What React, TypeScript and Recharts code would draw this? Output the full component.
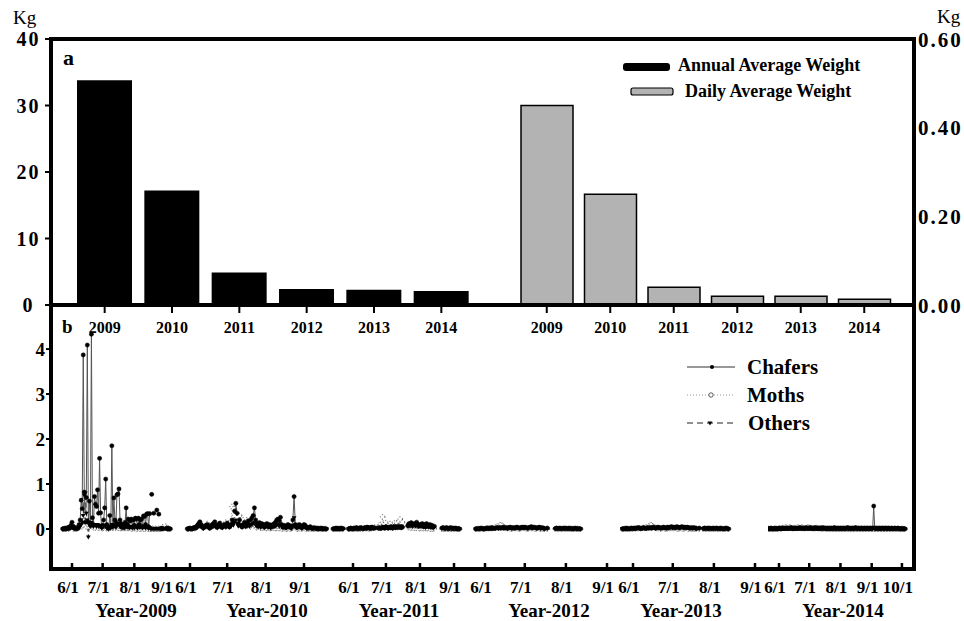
import React from "react";
import { Bar, BarChart, Line, LineChart, ReferenceLine, XAxis, YAxis } from "recharts";

const FONT = "'Liberation Serif', 'Times New Roman', serif";

// ---- panel a ----
const years = ["2009", "2010", "2011", "2012", "2013", "2014"];
const annualAvg = [33.8, 17.2, 4.9, 2.4, 2.3, 2.1];
const dailyAvg = [0.45, 0.25, 0.04, 0.02, 0.02, 0.013];
const leftTicks = [0, 10, 20, 30, 40];
const rightTicks = [0, 0.2, 0.4, 0.6];

// ---- panel b (days counted from 6/1) ----
const bTicks = [0, 1, 2, 3, 4];
const dateTicks = [0, 30, 61, 92];
const dateTicks2014 = [0, 30, 61, 92, 122];
const dateLabels: Record<number, string> = { 0: "6/1", 30: "7/1", 61: "8/1", 92: "9/1", 122: "10/1" };
const yearLabels = ["Year-2009", "Year-2010", "Year-2011", "Year-2012", "Year-2013", "Year-2014"];
const startDays = [-9, -2, -18, -7, -8, -12];

const chafers2009 = [
  0, 0.01, 0, 0.02, 0.01, 0.03, 0.02, 0.05, 0.08, 0.15,
  0.06, 0.02, 0.03, 0.01, 0.02, 0.04, 0.1, 0.2, 0.64, 0.45,
  3.87, 0.82, 0.15, 0.7, 4.09, 0.15, 0.62, 0.08, 4.33, 0.25,
  0.1, 0.72, 0.55, 0.5, 0.87, 0.35, 1.57, 0.36, 0.05, 0.08,
  0.2, 0.47, 1.11, 0.1, 0.05, 0.02, 0.3, 0.05, 1.85, 0.08,
  0.69, 0.2, 0.15, 0.76, 0.78, 0.89, 0.2, 0.12, 0.05, 0.1,
  0.03, 0.15, 0.47, 0.1, 0.22, 0.05, 0.18, 0.22, 0.04, 0.2,
  0.08, 0.24, 0.22, 0.06, 0.24, 0.1, 0.2, 0.22, 0.05, 0.29,
  0.28, 0.1, 0.33, 0.34, 0.05, 0.34, null, 0.77, null, 0.35,
  null, null, 0.42, null, 0.33, null, 0.01, 0.02, 0, null,
  null, 0.01, 0.02, 0, 0.01, 0,
];
const moths2009 = [
  0, 0, 0.01, 0, 0, 0.02, 0, 0.03, 0.05, 0.08,
  0.03, 0, 0.01, 0, 0, 0.02, 0.03, 0.05, 0.1, 0.05,
  0.08, 0.3, 0.1, 0.05, 0.12, 0.08, 0.05, 0.1, 0.06, 0.05,
  0.03, 0.05, 0.02, 0.04, 0.06, 0.02, 0.03, 0.05, 0.02, 0.01,
  0.02, 0.04, 0.03, 0.01, 0.02, 0, 0.03, 0.02, 0.05, 0.02,
  0.03, 0.05, 0.02, 0.04, 0.03, 0.02, 0.03, 0.01, 0.02, 0.03,
  0.02, 0.01, 0.03, 0.02, 0.01, 0.02, 0.03, 0.01, 0, 0.02,
  0.01, 0.02, 0.01, 0, 0.02, 0.01, 0, 0.01, 0.02, 0,
  0.01, 0, 0.02, 0.01, 0, 0.01, 0, 0, 0.01, 0,
  0, 0.01, 0, 0, 0.01, 0, 0, 0.01, 0.05, null,
  null, 0.06, 0.03, 0, 0.01, 0,
];
const others2009 = [
  0, 0, 0, 0, 0.01, 0, 0, 0.01, 0.02, 0.04,
  0.02, 0, 0, 0.01, 0, 0.01, 0.02, 0.05, 0.1, 0.15,
  0.3, 0.75, 0.8, 0.35, 0.2, -0.18, 0.1, 0.05, 0.15, 0.08,
  0.05, 0.1, 0.08, 0.05, 0.1, 0.05, 0.08, 0.05, 0.02, 0.03,
  0.05, 0.08, 0.05, 0.02, 0.01, 0, 0.05, 0.02, 0.1, 0.03,
  0.08, 0.05, 0.03, 0.1, 0.12, 0.08, 0.05, 0.03, 0.02, 0.05,
  0.02, 0.05, 0.08, 0.03, 0.05, 0.02, 0.04, 0.05, 0.02, 0.04,
  0.02, 0.05, 0.04, 0.02, 0.05, 0.03, 0.04, 0.05, 0.02, 0.05,
  0.04, 0.02, 0.05, 0.03, 0.01, 0.03, 0, 0, 0, 0,
  0, 0, 0, 0, 0, 0, 0, 0, 0, null,
  null, 0, 0, 0, 0, 0,
];

const chafers2010 = [
  0, 0.01, 0.02, 0, 0.01, 0.03, 0.02, 0.05, 0.08, 0.12,
  0.16, 0.1, 0.05, 0.03, 0.06, 0.08, 0.1, 0.04, 0.02, 0.06,
  0.1, 0.12, 0.16, 0.08, 0.05, 0.1, 0.13, 0.06, 0.04, 0.08,
  0.1, 0.06, 0.13, 0.08, 0.05, 0.1, 0.2, 0.15, 0.4, 0.57,
  0.35, 0.12, 0.2, 0.08, 0.05, 0.1, 0.15, 0.08, 0.12, 0.18,
  0.1, 0.2, 0.25, 0.3, 0.47, 0.2, 0.12, 0.1, 0.14, 0.08,
  0.12, 0.1, 0.06, 0.1, 0.12, 0.08, 0.1, 0.05, 0.08, 0.1,
  0.12, 0.15, 0.2, 0.22, 0.18, 0.26, 0.1, 0.05, 0.08, 0.06,
  0.05, 0.1, 0.08, 0.05, 0.04, 0.2, 0.72, 0.1, 0.05, 0.06,
  0.1, 0.08, 0.04, 0.05, 0.1, 0.08, 0.04, 0.02, 0.03, 0.05,
  0.02, 0.01, 0.03, 0.02, 0.01, 0.02, 0, 0.01, 0.02, 0,
  0.01, 0, 0,
];
const moths2010 = [
  0, 0, 0.01, 0, 0, 0.02, 0.01, 0.03, 0.05, 0.08,
  0.1, 0.06, 0.03, 0.02, 0.05, 0.08, 0.12, 0.06, 0.03, 0.05,
  0.08, 0.1, 0.12, 0.06, 0.04, 0.08, 0.1, 0.12, 0.05, 0.08,
  0.1, 0.15, 0.12, 0.08, 0.1, 0.18, 0.5, 0.45, 0.3, 0.2,
  0.25, 0.15, 0.3, 0.2, 0.15, 0.2, 0.1, 0.15, 0.2, 0.1,
  0.12, 0.05, 0.08, 0.1, 0.06, 0.05, 0.03, 0.05, 0.04, 0.02,
  0.03, 0.02, 0.04, 0.02, 0.01, 0.03, 0.02, 0.01, 0.02, 0.03,
  0.02, 0.01, 0.02, 0.03, 0.01, 0.02, 0.01, 0, 0.02, 0.01,
  0, 0.01, 0.02, 0, 0.01, 0.02, 0.05, 0.03, 0.01, 0,
  0.01, 0.02, 0, 0.01, 0.02, 0.01, 0, 0.01, 0, 0.01,
  0, 0.01, 0, 0, 0.01, 0, 0, 0.01, 0, 0,
  0, 0.01, 0,
];
const others2010 = [
  0, 0, 0, 0.01, 0, 0, 0.01, 0.02, 0.03, 0.05,
  0.06, 0.04, 0.02, 0.01, 0.03, 0.04, 0.05, 0.02, 0.01, 0.03,
  0.04, 0.05, 0.06, 0.03, 0.02, 0.04, 0.05, 0.03, 0.02, 0.04,
  0.05, 0.03, 0.06, 0.04, 0.03, 0.05, 0.1, 0.08, 0.15, 0.2,
  0.12, 0.06, 0.08, 0.05, 0.03, 0.05, 0.06, 0.04, 0.05, 0.08,
  0.05, 0.08, 0.1, 0.12, 0.15, 0.08, 0.05, 0.04, 0.06, 0.03,
  0.05, 0.04, 0.02, 0.04, 0.05, 0.03, 0.04, 0.02, 0.03, 0.04,
  0.05, 0.06, 0.08, 0.1, 0.06, 0.1, 0.04, 0.02, 0.03, 0.02,
  0.02, 0.04, 0.03, 0.02, 0.01, 0.08, 0.25, 0.04, 0.02, 0.02,
  0.04, 0.03, 0.01, 0.02, 0.04, 0.03, 0.01, 0.01, 0.01, 0.02,
  0.01, 0, 0.01, 0.01, 0, 0.01, 0, 0, 0.01, 0,
  0, 0, 0,
];

const chafers2011 = [
  0, 0.01, 0, 0.02, 0.01, 0, 0.01, 0.02, 0, 0.01,
  null, null, null, null, 0, 0.01, 0.02, 0.01, 0, 0.02,
  0.01, 0.03, 0.02, 0.01, 0.02, 0.03, 0.02, 0.01, 0.02, 0.03,
  0.02, 0.04, 0.03, 0.02, 0.03, 0.04, 0.02, 0.03, 0.02, null,
  null, 0.02, 0.03, 0.01, 0.02, 0.04, 0.03, 0.02, 0.05, 0.03,
  0.02, 0.04, 0.03, 0.05, 0.02, 0.04, 0.06, 0.03, 0.05, 0.04,
  0.06, 0.03, 0.05, 0.04, null, null, null, null, 0.08, 0.12,
  0.1, 0.14, 0.08, 0.1, 0.12, 0.08, 0.15, 0.1, 0.06, 0.1,
  0.08, 0.12, 0.06, 0.1, 0.05, 0.12, 0.08, 0.06, 0.1, 0.05,
  0.08, 0.04, 0.06, null, null, null, null, null, null, 0.02,
  0.03, 0.02, 0.01, 0.03, 0.02, 0.01, 0.02, 0.03, 0.01, 0.02,
  0.01, 0.02, 0.01, 0, 0.01, 0,
];
const moths2011 = [
  0, 0, 0.01, 0, 0, 0.01, 0, 0, 0.01, 0,
  null, null, null, null, 0, 0, 0.01, 0, 0, 0.01,
  0, 0.01, 0, 0, 0.01, 0, 0.02, 0, 0.01, 0.02,
  0.01, 0.02, 0.01, 0, 0.02, 0.01, 0.03, 0.02, 0.04, null,
  null, 0.05, 0.08, 0.1, 0.06, 0.27, 0.1, 0.08, 0.14, 0.06,
  0.1, 0.08, 0.12, 0.06, 0.1, 0.08, 0.13, 0.1, 0.13, 0.08,
  0.18, 0.22, 0.12, 0.15, null, null, null, null, 0.05, 0.03,
  0.04, 0.02, 0.03, 0.05, 0.02, 0.03, 0.02, 0.04, 0.02, 0.01,
  0.02, 0.03, 0.01, 0.02, 0.01, 0.02, 0.01, 0.02, 0.01, 0,
  0.01, 0, 0.01, null, null, null, null, null, null, 0,
  0.01, 0, 0, 0.01, 0, 0, 0.01, 0, 0, 0.01,
  0, 0, 0.01, 0, 0, 0,
];
const others2011 = [
  0, 0, 0, 0.01, 0, 0, 0, 0.01, 0, 0,
  null, null, null, null, 0, 0, 0, 0.01, 0, 0,
  0.01, 0, 0.01, 0, 0, 0.01, 0, 0.01, 0, 0.01,
  0, 0.01, 0.02, 0.01, 0, 0.01, 0.02, 0.01, 0.02, null,
  null, 0.01, 0.02, 0.01, 0.02, 0.03, 0.02, 0.01, 0.03, 0.02,
  0.01, 0.03, 0.02, 0.03, 0.01, 0.02, 0.03, 0.02, 0.03, 0.02,
  0.04, 0.03, 0.02, 0.03, null, null, null, null, 0.05, 0.08,
  0.06, 0.1, 0.05, 0.08, 0.1, 0.06, 0.12, 0.08, 0.05, 0.08,
  0.06, 0.1, 0.04, 0.08, 0.03, 0.1, 0.06, 0.04, 0.08, 0.03,
  0.05, 0.02, 0.04, null, null, null, null, null, null, 0.01,
  0.02, 0.01, 0, 0.02, 0.01, 0, 0.01, 0.02, 0, 0.01,
  0, 0.01, 0, 0, 0, 0,
];

const chafers2012 = [
  0, 0.01, 0, 0.01, 0.02, 0.01, 0, 0.01, 0.02, 0.01,
  0.02, 0.01, 0.03, 0.02, 0.01, 0.02, 0.03, 0.02, 0.03, 0.02,
  0.03, 0.04, 0.02, 0.03, 0.02, 0.03, 0.04, 0.02, 0.03, 0.02,
  0.03, 0.04, 0.03, 0.02, 0.03, 0.04, 0.03, 0.04, 0.03, 0.02,
  0.03, 0.04, 0.05, 0.03, 0.04, 0.03, 0.02, 0.03, 0.04, 0.02,
  0.03, 0.02, 0.01, null, 0.02, null, null, null, null, null,
  0.01, 0.02, 0.01, 0.02, 0.01, 0.01, 0.02, 0.01, 0.02, 0.01,
  0.01, 0.02, 0.01, 0, 0.01, 0.02, 0.01, 0, 0.01, 0,
];
const moths2012 = [
  0, 0, 0.01, 0, 0, 0.01, 0, 0, 0.01, 0.02,
  0.01, 0.02, 0.01, 0.02, 0.03, 0.04, 0.05, 0.07, 0.08, 0.09,
  0.08, 0.06, 0.04, 0.02, 0.01, 0.02, 0.01, 0, 0.01, 0.02,
  0.01, 0.02, 0.01, 0, 0.01, 0.02, 0.03, 0.02, 0.01, 0,
  0.01, 0.02, 0.01, 0.02, 0.01, 0, 0.01, 0.02, 0.01, 0,
  0.01, 0, 0, null, 0, null, null, null, null, null,
  0, 0.01, 0, 0, 0.01, 0, 0, 0.01, 0, 0,
  0.01, 0, 0, 0.01, 0, 0, 0, 0.01, 0, 0,
];
const others2012 = [
  0, 0, 0, 0.01, 0, 0, 0.01, 0, 0, 0.01,
  0, 0.01, 0.01, 0, 0.02, 0.01, 0.02, 0.01, 0.02, 0.01,
  0.02, 0.01, 0.02, 0.02, 0.01, 0.02, 0.03, 0.01, 0.02, 0.01,
  0.02, 0.03, 0.02, 0.01, 0.02, 0.03, 0.02, 0.03, 0.02, 0.01,
  0.02, 0.03, 0.02, 0.02, 0.03, 0.02, 0.01, 0.02, 0.03, 0.01,
  0.02, 0.01, 0, null, 0.01, null, null, null, null, null,
  0, 0.01, 0, 0.01, 0, 0, 0.01, 0, 0.01, 0,
  0, 0.01, 0, 0, 0, 0.01, 0, 0, 0, 0,
];

const chafers2013 = [
  0, 0.01, 0, 0.02, 0.01, 0, 0.01, 0.02, 0.01, 0.02,
  0.01, 0.02, 0.03, 0.02, 0.01, 0.02, 0.03, 0.02, 0.01, 0.03,
  0.02, 0.03, 0.02, 0.04, 0.03, 0.02, 0.03, 0.04, 0.03, 0.02,
  0.03, 0.04, 0.03, 0.02, 0.04, 0.03, 0.04, 0.05, 0.03, 0.04,
  0.03, 0.05, 0.04, 0.03, 0.04, 0.05, 0.03, 0.04, 0.03, 0.04,
  0.03, 0.02, 0.03, 0.02, 0.03, 0.02, 0.01, null, 0.02, null,
  null, 0.01, 0.02, 0.01, 0.02, 0.01, 0.02, 0.01, 0.01, 0.02,
  0.01, 0.02, 0.01, 0.01, 0.02, 0.01, 0, 0.01, 0.02, 0.01,
  0,
];
const moths2013 = [
  0, 0, 0.01, 0, 0, 0.01, 0, 0.01, 0, 0.01,
  0.01, 0.02, 0.01, 0.02, 0.01, 0.02, 0.03, 0.02, 0.04, 0.05,
  0.07, 0.08, 0.09, 0.07, 0.05, 0.03, 0.02, 0.01, 0.02, 0,
  0.01, 0.02, 0.01, 0, 0.01, 0.02, 0.01, 0.02, 0.03, 0.01,
  0.02, 0.01, 0, 0.01, 0.02, 0.01, 0, 0.01, 0.02, 0.01,
  0, 0.01, 0, 0.01, 0, 0, 0.01, null, 0, null,
  null, 0, 0.01, 0, 0, 0.01, 0, 0, 0.01, 0,
  0, 0.01, 0, 0, 0, 0.01, 0, 0, 0, 0.01,
  0,
];
const others2013 = [
  0, 0, 0, 0.01, 0, 0, 0.01, 0, 0, 0.01,
  0, 0.01, 0.02, 0.01, 0, 0.01, 0.02, 0.01, 0, 0.02,
  0.01, 0.02, 0.01, 0.02, 0.02, 0.01, 0.02, 0.03, 0.02, 0.01,
  0.02, 0.03, 0.02, 0.01, 0.02, 0.02, 0.03, 0.04, 0.02, 0.03,
  0.02, 0.03, 0.02, 0.02, 0.03, 0.04, 0.02, 0.03, 0.02, 0.03,
  0.02, 0.01, 0.02, 0.01, 0.02, 0.01, 0, null, 0.01, null,
  null, 0, 0.01, 0, 0.01, 0, 0.01, 0, 0, 0.01,
  0, 0.01, 0, 0, 0.01, 0, 0, 0, 0.01, 0,
  0,
];

const chafers2014 = [
  0, 0.01, 0, 0.01, 0.02, 0, 0.01, 0, 0.02, 0.01,
  0, 0.01, 0.02, 0.01, 0, 0.02, 0.01, 0.02, 0.01, 0.02,
  0.01, 0.02, 0.01, 0.02, 0.03, 0.01, 0.02, 0.01, 0.02, 0.01,
  0.02, 0.01, 0.02, 0.03, 0.02, 0.01, 0.02, 0.01, 0.02, 0.03,
  0.02, 0.01, 0.02, 0.03, 0.01, 0.02, 0.01, 0.02, 0.03, 0.02,
  0.01, 0.02, 0.01, 0.02, 0.01, 0.03, 0.02, 0.01, 0.02, 0.01,
  0.02, 0.01, 0.02, 0.01, 0.02, 0.01, 0.02, 0.03, 0.01, 0.02,
  0.01, 0.02, 0.01, 0.02, 0.01, 0.02, 0.01, 0.02, 0.01, 0.02,
  0.03, 0.02, 0.01, 0.02, 0.01, 0.02, 0.01, 0.02, 0.03, 0.02,
  0.01, 0.02, 0.01, 0.02, 0.01, 0.02, 0.01, 0.02, 0.01, 0.02,
  0.01, 0.02, 0.01, 0.02, 0.01, 0.02, 0.51, 0.02, 0.01, 0.02,
  0.01, 0.02, 0.01, 0.02, 0.01, 0.02, 0.01, 0.02, 0.01, 0.02,
  0.01, 0.02, 0.01, 0.01, 0.02, 0.01, 0.01, 0.02, 0.01, 0.01,
  0.02, 0.01, 0.01, 0, 0.01, 0, 0.01, 0,
];
const moths2014 = [
  0, 0, 0.01, 0, 0, 0.01, 0, 0, 0.01, 0,
  0.01, 0, 0.01, 0.02, 0.01, 0.02, 0.03, 0.02, 0.03, 0.04,
  0.03, 0.02, 0.03, 0.04, 0.03, 0.02, 0.01, 0.02, 0.03, 0.02,
  0.03, 0.04, 0.03, 0.02, 0.03, 0.04, 0.03, 0.02, 0.01, 0.02,
  0.03, 0.04, 0.03, 0.02, 0.03, 0.02, 0.01, 0.02, 0.01, 0.02,
  0.03, 0.02, 0.01, 0.02, 0.01, 0, 0.01, 0.02, 0.01, 0,
  0.01, 0, 0.01, 0, 0.01, 0, 0, 0.01, 0, 0,
  0.01, 0, 0, 0.01, 0, 0, 0.01, 0, 0, 0.01,
  0, 0, 0.01, 0, 0, 0.01, 0, 0, 0.01, 0,
  0, 0.01, 0, 0, 0.01, 0, 0, 0.01, 0, 0,
  0.01, 0, 0, 0.01, 0, 0, 0.01, 0, 0, 0.01,
  0, 0, 0.01, 0, 0, 0.01, 0, 0, 0.01, 0,
  0, 0.01, 0, 0, 0.01, 0, 0, 0.01, 0, 0,
  0.01, 0, 0, 0, 0.01, 0, 0, 0,
];
const others2014 = [
  0, 0, 0, 0.01, 0, 0, 0, 0.01, 0, 0,
  0, 0.01, 0, 0, 0.01, 0, 0.01, 0, 0.01, 0,
  0.01, 0, 0.01, 0.01, 0, 0.01, 0, 0.01, 0, 0.01,
  0, 0.01, 0.01, 0, 0.01, 0, 0.01, 0, 0.01, 0.01,
  0, 0.01, 0, 0.01, 0, 0.01, 0.01, 0, 0.01, 0,
  0.01, 0, 0.01, 0, 0.01, 0.01, 0, 0.01, 0, 0.01,
  0, 0.01, 0, 0.01, 0, 0.01, 0, 0, 0.01, 0,
  0.01, 0, 0.01, 0, 0, 0.01, 0, 0.01, 0, 0,
  0.01, 0, 0.01, 0, 0.01, 0, 0, 0.01, 0, 0.01,
  0, 0.01, 0, 0, 0.01, 0, 0.01, 0, 0, 0.01,
  0, 0.01, 0, 0.01, 0, 0, 0.03, 0, 0.01, 0,
  0.01, 0, 0, 0.01, 0, 0.01, 0, 0, 0.01, 0,
  0, 0.01, 0, 0.01, 0, 0, 0.01, 0, 0, 0.01,
  0, 0, 0.01, 0, 0, 0.01, 0, 0,
];

const chafersByYear = [chafers2009, chafers2010, chafers2011, chafers2012, chafers2013, chafers2014];
const mothsByYear = [moths2009, moths2010, moths2011, moths2012, moths2013, moths2014];
const othersByYear = [others2009, others2010, others2011, others2012, others2013, others2014];

// layout of the six sub-axes of panel b (page px)
const SEG = [
  { left: 51, right: 178, p0: 72, p92: 166, labelX: 136 },
  { left: 178, right: 330, p0: 190, p92: 304, labelX: 267 },
  { left: 330, right: 468, p0: 353, p92: 454, labelX: 399 },
  { left: 468, right: 620, p0: 485, p92: 607, labelX: 549 },
  { left: 620, right: 768, p0: 633, p92: 755, labelX: 681 },
  { left: 768, right: 914, p0: 779, p92: 871.7, labelX: 843 },
];

const PB_TOP = 305;
const PB_H = 264;
const PB_AXIS_H = 52;
const B_DOMAIN: [number, number] = [-0.89, 4.98];
const AXIS = { stroke: "#000", strokeWidth: 4, strokeLinecap: "square" as const };
const bold = { fontFamily: FONT, fontWeight: "bold" as const, fill: "#000" };

const annualRows = years.map((y, i) => ({ year: y, value: annualAvg[i] }));
const dailyRows = years.map((y, i) => ({ year: y, value: dailyAvg[i] }));

function LeftTick(props: any) {
  const { y, payload } = props;
  return (
    <text x={28.5} y={y} dy="0.36em" textAnchor="middle" fontSize={20} letterSpacing={2} {...bold}>
      {payload.value}
    </text>
  );
}

function RightTick(props: any) {
  const { x, y, payload } = props;
  return (
    <text x={x} y={y} dy="0.36em" textAnchor="start" fontSize={21} letterSpacing={2} {...bold}>
      {Number(payload.value).toFixed(2)}
    </text>
  );
}

function BTick(props: any) {
  const { x, y, payload } = props;
  return (
    <text x={x} y={y} dy="0.36em" textAnchor="end" fontSize={19} {...bold}>
      {payload.value}
    </text>
  );
}

function DateTick(props: any) {
  const { x, y, payload } = props;
  return (
    <g>
      <line x1={x} x2={x} y1={y - 6} y2={y} stroke="#000" strokeWidth={2.5} />
      <text x={x - 4} y={y + 24} textAnchor="middle" fontSize={17} {...bold}>
        {dateLabels[payload.value]}
      </text>
    </g>
  );
}

function OtherDot(props: any) {
  const { cx, cy, index } = props;
  if (cx == null || cy == null) return <g key={`o-${index}`} />;
  return (
    <path
      key={`o-${index}`}
      d={`M${cx - 2.4},${cy - 1.6}L${cx + 2.4},${cy - 1.6}L${cx},${cy + 2.4}Z`}
      fill="#000"
    />
  );
}

function YearPanel({ idx }: { idx: number }) {
  const s = SEG[idx];
  const first = idx === 0;
  const last = idx === SEG.length - 1;
  const k = (s.p92 - s.p0) / 92;
  const domain: [number, number] = [(s.left - s.p0) / k, (s.right - s.p0) / k];
  const leftW = first ? 51 : 0;
  // spare room on the left so tick labels near the join are not clipped
  const extraLeft = first ? 0 : last ? 108 : 28;
  const rightW = last ? 50 : 0;
  const chartLeft = s.left - leftW - extraLeft;
  const width = s.right + rightW - chartLeft;
  const c = chafersByYear[idx];
  const rows = c.map((v, i) => ({
    day: startDays[idx] + i,
    chafers: v,
    moths: mothsByYear[idx][i],
    others: othersByYear[idx][i],
  }));
  const ox = (px: number) => px - chartLeft;
  const oy = (py: number) => py - PB_TOP;

  return (
    <div style={{ position: "absolute", left: chartLeft, top: PB_TOP }}>
      <LineChart
        width={width}
        height={PB_H + PB_AXIS_H}
        data={rows}
        margin={{ top: 0, right: 0, bottom: 0, left: extraLeft }}
      >
        <XAxis
          type="number"
          dataKey="day"
          domain={domain}
          allowDataOverflow
          ticks={last ? dateTicks2014 : dateTicks}
          interval={0}
          height={PB_AXIS_H}
          tickSize={0}
          tickMargin={0}
          tickLine={false}
          axisLine={AXIS}
          tick={<DateTick />}
          label={{
            content: () => (
              <text x={ox(s.labelX)} y={oy(617)} textAnchor="middle" fontSize={19} {...bold}>
                {yearLabels[idx]}
              </text>
            ),
          }}
        />
        <YAxis
          domain={B_DOMAIN}
          allowDataOverflow
          hide={!first}
          width={leftW}
          ticks={bTicks}
          interval={0}
          tickSize={5}
          tickMargin={1}
          tickLine={{ stroke: "#000", strokeWidth: 2 }}
          axisLine={AXIS}
          tick={<BTick />}
        />
        {last && (
          <YAxis
            yAxisId="r"
            orientation="right"
            width={rightW}
            domain={[0, 1]}
            tick={false}
            tickLine={false}
            axisLine={AXIS}
          />
        )}
        <Line
          dataKey="moths"
          stroke="#9a9a9a"
          strokeWidth={1}
          strokeDasharray="1 2"
          dot={{ r: 2.3, fill: "#fff", stroke: "#222", strokeWidth: 0.8 }}
          connectNulls={false}
          isAnimationActive={false}
        />
        <Line
          dataKey="others"
          stroke="#222"
          strokeWidth={1}
          strokeDasharray="5 3"
          dot={<OtherDot />}
          connectNulls={false}
          isAnimationActive={false}
        />
        <Line
          dataKey="chafers"
          stroke="#555"
          strokeWidth={1}
          dot={{ r: 2.1, fill: "#000", stroke: "#000", strokeWidth: 0.5 }}
          connectNulls={false}
          isAnimationActive={false}
        />
        {first && (
          <text x={ox(62)} y={oy(333)} fontSize={19} {...bold}>
            b
          </text>
        )}
        {last && (
          <g>
            <line x1={ox(687)} x2={ox(735)} y1={oy(367)} y2={oy(367)} stroke="#333" strokeWidth={1.2} />
            <circle cx={ox(712)} cy={oy(367)} r={2} fill="#000" />
            <text x={ox(747)} y={oy(374)} fontSize={21} {...bold}>Chafers</text>
            <line x1={ox(687)} x2={ox(735)} y1={oy(395)} y2={oy(395)} stroke="#999" strokeWidth={1} strokeDasharray="1 2" />
            <circle cx={ox(711)} cy={oy(395)} r={2.2} fill="#fff" stroke="#333" strokeWidth={0.8} />
            <text x={ox(747)} y={oy(402)} fontSize={21} {...bold}>Moths</text>
            <line x1={ox(687)} x2={ox(735)} y1={oy(423)} y2={oy(423)} stroke="#222" strokeWidth={1.2} strokeDasharray="6 4" />
            <path d={`M${ox(707.6)},${oy(421.4)}L${ox(712.4)},${oy(421.4)}L${ox(710)},${oy(425.4)}Z`} fill="#000" />
            <text x={ox(748)} y={oy(430)} fontSize={21} {...bold}>Others</text>
          </g>
        )}
      </LineChart>
    </div>
  );
}

export default function App() {
  return (
    <div style={{ position: "absolute", left: 0, top: 0, width: 964, height: 621, background: "#fff" }}>
      {/* panel a, left half: annual averages */}
      <div style={{ position: "absolute", left: 0, top: 0 }}>
        <BarChart width={475} height={345} data={annualRows} margin={{ top: 39, right: 0, bottom: 0, left: 0 }}>
          <XAxis
            dataKey="year"
            height={40}
            padding={{ left: 20, right: 0 }}
            tickSize={8}
            tickMargin={9}
            tickLine={{ stroke: "#000", strokeWidth: 2 }}
            axisLine={AXIS}
            tick={{ fontSize: 16, ...bold }}
          />
          <YAxis
            domain={[0, 40]}
            ticks={leftTicks}
            interval={0}
            width={51}
            tickSize={6}
            tickMargin={2}
            tickLine={{ stroke: "#000", strokeWidth: 2 }}
            axisLine={AXIS}
            tick={<LeftTick />}
          />
          <ReferenceLine y={40} stroke="#000" strokeWidth={4} strokeLinecap="square" ifOverflow="visible" />
          <Bar dataKey="value" fill="#000" barSize={55} isAnimationActive={false} />
          <text x={13} y={24} fontSize={19} fontFamily={FONT} fill="#000">Kg</text>
          <text x={63} y={65} fontSize={22} {...bold}>a</text>
        </BarChart>
      </div>

      {/* panel a, right half: daily averages */}
      <div style={{ position: "absolute", left: 475, top: 0 }}>
        <BarChart width={489} height={345} data={dailyRows} margin={{ top: 39, right: 0, bottom: 0, left: 0 }}>
          <XAxis
            dataKey="year"
            height={40}
            padding={{ left: 40, right: 18 }}
            tickSize={8}
            tickMargin={9}
            tickLine={{ stroke: "#000", strokeWidth: 2 }}
            axisLine={AXIS}
            tick={{ fontSize: 16, ...bold }}
          />
          <YAxis
            orientation="right"
            domain={[0, 0.6]}
            ticks={rightTicks}
            interval={0}
            width={50}
            tickSize={0}
            tickMargin={4}
            tickLine={false}
            axisLine={AXIS}
            tick={<RightTick />}
          />
          <ReferenceLine y={0.6} stroke="#000" strokeWidth={4} strokeLinecap="square" ifOverflow="visible" />
          <Bar dataKey="value" fill="#b3b3b3" stroke="#000" strokeWidth={1.5} barSize={52} isAnimationActive={false} />
          <text x={462} y={23} fontSize={19} fontFamily={FONT} fill="#000">Kg</text>
          <g>
            <rect x={148} y={63} width={47} height={8} rx={3} fill="#000" />
            <text x={203} y={71} fontSize={18} {...bold}>Annual Average Weight</text>
            <rect x={156} y={88} width={42} height={7} rx={2} fill="#b3b3b3" stroke="#000" strokeWidth={1.2} />
            <text x={210} y={97} fontSize={18} {...bold}>Daily Average Weight</text>
          </g>
        </BarChart>
      </div>

      {SEG.map((_, i) => (
        <YearPanel key={i} idx={i} />
      ))}
    </div>
  );
}
